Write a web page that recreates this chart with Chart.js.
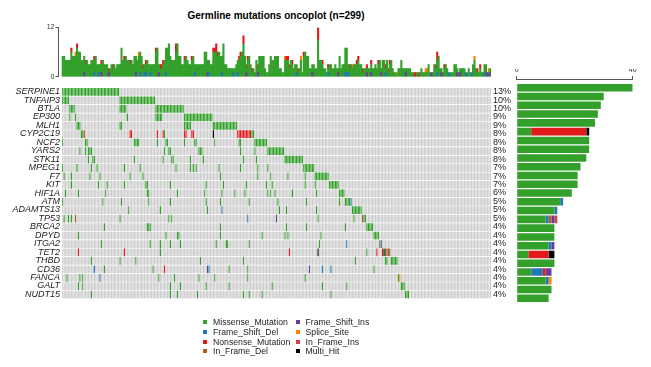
<!DOCTYPE html>
<html>
<head>
<meta charset="utf-8">
<script src="https://cdn.jsdelivr.net/npm/chart.js@4.4.1/dist/chart.umd.min.js"></script>
<style>
  body { margin: 0; width: 651px; height: 367px; background: #fff; position: relative; overflow: hidden;
         font-family: "Liberation Sans", Arial, sans-serif; }
  canvas { position: absolute; }
  #title { position: absolute; left: 0; width: 552px; top: 10px; text-align: center;
           font-weight: bold; font-size: 10px; color: #000; }
  .sq { position: absolute; width: 4px; height: 4px; }
  .lt { position: absolute; font-size: 8.7px; color: #222; line-height: 10px; white-space: nowrap; }
</style>
</head>
<body>
<div id="title">Germline mutations oncoplot (n=299)</div>
<canvas id="tmb" width="491" height="62" style="left:0;top:20px"></canvas>
<canvas id="matrix" width="520" height="226" style="left:0;top:80px"></canvas>
<canvas id="counts" width="151" height="256" style="left:500px;top:50px"></canvas>
<div id="legend"></div>
<script>
// genes, top to bottom
const genes = ['SERPINE1', 'TNFAIP3', 'BTLA', 'EP300', 'MLH1', 'CYP2C19', 'NCF2', 'YARS2', 'STK11', 'MPEG1',
  'F7', 'KIT', 'HIF1A', 'ATM', 'ADAMTS13', 'TP53', 'BRCA2', 'DPYD', 'ITGA2', 'TET2', 'THBD', 'CD36',
  'FANCA', 'GALT', 'NUDT15'];
const genePct = ['13%', '10%', '10%', '9%', '9%', '8%', '8%', '8%', '8%', '7%', '7%', '7%', '6%', '5%',
  '5%', '5%', '4%', '4%', '4%', '4%', '4%', '4%', '4%', '4%', '4%'];

const nSamples = 299;
const sampleIds = Array.from({ length: nSamples }, (_, i) => 'S' + (i + 1));

// variant classes
const vcNames = { M: 'Missense_Mutation', D: 'Frame_Shift_Del', N: 'Nonsense_Mutation', B: 'In_Frame_Del',
  F: 'Frame_Shift_Ins', S: 'Splice_Site', P: 'In_Frame_Ins', X: 'Multi_Hit' };
const vcColors = { M: '#33a02c', D: '#1f78b4', N: '#e31a1c', B: '#b15928',
  F: '#6a3d9a', S: '#ff7f00', P: '#d53e4f', X: '#000000' };

// mutations per sample (top bars)
const tmb = [
  5, 5, 4, 4, 4, 4, 7, 5, 5, 6,
  8, 6, 6, 4, 4, 5, 4, 4, 3, 3,
  4, 4, 5, 5, 3, 3, 3, 4, 4, 3,
  3, 3, 2, 2, 3, 3, 3, 2, 3, 3,
  3, 7, 4, 5, 5, 4, 4, 4, 4, 3,
  5, 5, 4, 6, 6, 5, 3, 3, 4, 4,
  3, 3, 3, 3, 3, 7, 7, 3, 3, 3,
  4, 4, 7, 7, 8, 5, 4, 4, 4, 8,
  8, 5, 5, 3, 3, 5, 5, 4, 3, 3,
  5, 5, 3, 3, 3, 3, 3, 3, 3, 6,
  6, 4, 4, 3, 3, 7, 7, 8, 6, 6,
  5, 5, 8, 3, 3, 2, 2, 2, 2, 2,
  2, 3, 4, 5, 6, 6, 10, 5, 3, 5,
  5, 3, 2, 2, 1, 4, 3, 5, 5, 5,
  5, 2, 1, 1, 3, 5, 4, 4, 5, 5,
  5, 2, 2, 1, 1, 5, 5, 5, 3, 4,
  4, 2, 3, 3, 2, 2, 5, 1, 6, 6,
  5, 5, 2, 2, 3, 3, 2, 2, 12, 4,
  4, 4, 2, 2, 1, 3, 3, 3, 2, 2,
  3, 2, 2, 5, 2, 3, 3, 7, 7, 3,
  3, 3, 3, 3, 3, 4, 5, 3, 3, 2,
  2, 2, 3, 2, 2, 4, 2, 2, 3, 2,
  4, 4, 2, 4, 4, 3, 4, 2, 4, 4,
  2, 1, 1, 1, 2, 2, 4, 2, 2, 2,
  2, 2, 2, 1, 1, 1, 1, 1, 1, 1,
  2, 1, 1, 2, 2, 3, 1, 1, 1, 3,
  3, 6, 5, 2, 2, 1, 3, 3, 2, 1,
  1, 1, 1, 3, 3, 2, 1, 2, 2, 2,
  2, 1, 1, 2, 1, 1, 3, 5, 2, 2,
  1, 3, 1, 1, 3, 3, 1, 2, 2
];
// non-missense part of the top bars: [sample, class, count]
const tmbOther = [
  [6, 'N', 1], [10, 'N', 1], [16, 'N', 1], [22, 'N', 1], [27, 'N', 1], [32, 'N', 1], [35, 'N', 1],
  [43, 'N', 1], [47, 'N', 1], [56, 'N', 1], [58, 'N', 1], [65, 'N', 1], [68, 'N', 1], [69, 'N', 1],
  [70, 'N', 1], [79, 'N', 2], [85, 'N', 1], [90, 'N', 1], [105, 'N', 1], [106, 'N', 1], [107, 'N', 2],
  [108, 'N', 1], [123, 'N', 1], [124, 'N', 1], [126, 'N', 2], [128, 'N', 1], [129, 'N', 1], [132, 'N', 1],
  [136, 'N', 1], [156, 'N', 1], [157, 'N', 1], [158, 'N', 1], [160, 'N', 1], [164, 'N', 1], [168, 'N', 1],
  [178, 'N', 3], [181, 'N', 1], [185, 'N', 1], [200, 'N', 1], [205, 'N', 1], [206, 'N', 1], [209, 'N', 1],
  [212, 'N', 1], [215, 'N', 1], [220, 'N', 1], [225, 'N', 1], [227, 'N', 1], [228, 'N', 1], [245, 'N', 1],
  [246, 'N', 1], [248, 'N', 1], [260, 'N', 1], [261, 'N', 2], [266, 'N', 1], [289, 'N', 1], [291, 'N', 1],
  [9, 'S', 1], [53, 'S', 1], [155, 'S', 1], [166, 'S', 1], [202, 'S', 1], [233, 'S', 1], [253, 'S', 1],
  [254, 'S', 1], [287, 'S', 1], [297, 'S', 1],
  [22, 'D', 1], [25, 'D', 1], [54, 'D', 1], [57, 'D', 1], [58, 'D', 1], [61, 'D', 1], [72, 'D', 1],
  [92, 'D', 1], [102, 'D', 1], [111, 'D', 1], [119, 'D', 1], [122, 'D', 1], [163, 'D', 1], [185, 'D', 1],
  [197, 'D', 1], [198, 'D', 1], [199, 'D', 1], [225, 'D', 1], [261, 'D', 1], [269, 'D', 1], [281, 'D', 1],
  [285, 'D', 1], [294, 'D', 1],
  [15, 'F', 1], [27, 'F', 1], [32, 'F', 1], [51, 'F', 1], [67, 'F', 1], [101, 'F', 1], [128, 'F', 1],
  [136, 'F', 1], [174, 'F', 1], [192, 'F', 1], [212, 'F', 1], [215, 'F', 1], [222, 'F', 1], [239, 'F', 1],
  [257, 'F', 1], [264, 'F', 1], [275, 'F', 1], [277, 'F', 1], [296, 'F', 1], [298, 'F', 1]
];

// oncoplot cells: [first sample, last sample, class]
const mutations = {
  SERPINE1: [[0, 39, 'M']],
  TNFAIP3: [[0, 4, 'M'], [40, 64, 'M']],
  BTLA: [[5, 8, 'M'], [40, 44, 'M'], [65, 84, 'M']],
  EP300: [[5, 5, 'M'], [9, 9, 'M'], [45, 45, 'M'], [65, 69, 'M'], [85, 104, 'M']],
  MLH1: [[10, 12, 'M'], [40, 41, 'M'], [85, 89, 'M'], [105, 121, 'M']],
  CYP2C19: [[13, 14, 'M'], [15, 15, 'N'], [47, 48, 'N'], [66, 66, 'N'], [70, 70, 'N'], [71, 71, 'M'],
    [85, 86, 'N'], [90, 91, 'N'], [105, 105, 'X'], [122, 131, 'N'], [132, 133, 'M']],
  NCF2: [[0, 0, 'M'], [16, 17, 'M'], [50, 53, 'M'], [66, 66, 'M'], [72, 73, 'M'], [85, 85, 'M'],
    [92, 93, 'M'], [106, 106, 'M'], [123, 124, 'M'], [134, 142, 'M']],
  YARS2: [[12, 12, 'M'], [16, 16, 'M'], [18, 20, 'M'], [71, 71, 'M'], [74, 75, 'M'], [95, 97, 'M'],
    [124, 124, 'M'], [134, 134, 'M'], [143, 154, 'M']],
  STK11: [[18, 18, 'M'], [21, 22, 'M'], [50, 50, 'M'], [70, 70, 'M'], [76, 77, 'M'], [89, 89, 'M'],
    [98, 98, 'M'], [126, 126, 'M'], [135, 135, 'M'], [155, 167, 'M']],
  MPEG1: [[0, 0, 'M'], [10, 10, 'M'], [20, 20, 'M'], [24, 24, 'M'], [43, 43, 'M'], [54, 54, 'M'],
    [79, 79, 'M'], [89, 89, 'M'], [91, 91, 'M'], [93, 93, 'M'], [109, 109, 'M'], [124, 124, 'M'],
    [136, 136, 'M'], [143, 143, 'M'], [168, 175, 'M']],
  F7: [[1, 1, 'M'], [6, 6, 'M'], [19, 19, 'M'], [26, 26, 'M'], [47, 47, 'M'], [56, 56, 'M'],
    [110, 110, 'M'], [136, 136, 'M'], [145, 145, 'M'], [157, 157, 'M'], [169, 169, 'M'], [176, 185, 'M']],
  KIT: [[6, 6, 'M'], [25, 25, 'M'], [31, 31, 'M'], [43, 43, 'M'], [58, 59, 'M'], [75, 75, 'M'],
    [100, 100, 'M'], [112, 112, 'M'], [128, 128, 'M'], [142, 142, 'M'], [146, 146, 'M'], [169, 169, 'M'],
    [176, 176, 'M'], [186, 192, 'M']],
  HIF1A: [[2, 2, 'M'], [11, 11, 'M'], [30, 30, 'M'], [59, 60, 'M'], [80, 80, 'M'], [99, 99, 'M'],
    [111, 111, 'M'], [120, 120, 'M'], [127, 127, 'M'], [143, 143, 'M'], [145, 145, 'M'], [148, 148, 'M'],
    [160, 160, 'M'], [177, 177, 'M'], [193, 196, 'M']],
  ATM: [[0, 0, 'M'], [28, 28, 'M'], [41, 41, 'M'], [60, 60, 'M'], [75, 75, 'M'], [100, 100, 'M'],
    [110, 110, 'M'], [130, 130, 'M'], [150, 150, 'M'], [170, 170, 'M'], [193, 193, 'M'], [197, 200, 'M'],
    [201, 201, 'D']],
  ADAMTS13: [[46, 46, 'M'], [68, 68, 'M'], [101, 101, 'M'], [111, 111, 'D'], [151, 151, 'M'],
    [156, 156, 'M'], [177, 177, 'M'], [202, 208, 'M']],
  TP53: [[1, 1, 'M'], [4, 4, 'M'], [6, 6, 'M'], [9, 9, 'B'], [40, 40, 'M'], [74, 74, 'M'], [76, 76, 'M'],
    [129, 129, 'D'], [149, 149, 'F'], [178, 178, 'M'], [203, 203, 'M'], [209, 209, 'P'], [210, 211, 'M']],
  BRCA2: [[29, 29, 'M'], [59, 61, 'M'], [110, 110, 'M'], [156, 156, 'M'], [170, 170, 'M'], [197, 197, 'M'],
    [212, 216, 'M']],
  DPYD: [[11, 11, 'M'], [72, 72, 'M'], [80, 81, 'M'], [110, 110, 'M'], [139, 139, 'M'], [155, 155, 'M'],
    [157, 157, 'M'], [180, 180, 'M'], [217, 220, 'M']],
  ITGA2: [[27, 27, 'M'], [61, 61, 'M'], [68, 68, 'M'], [75, 75, 'M'], [82, 82, 'M'], [107, 107, 'M'],
    [114, 115, 'M'], [130, 130, 'M'], [179, 179, 'M'], [198, 198, 'D'], [221, 221, 'M'], [222, 222, 'F']],
  TET2: [[11, 11, 'N'], [43, 43, 'N'], [68, 68, 'M'], [158, 158, 'N'], [178, 178, 'X'], [212, 212, 'M'],
    [219, 219, 'N'], [223, 223, 'N'], [224, 224, 'X'], [225, 225, 'M'], [226, 226, 'N'], [227, 227, 'M'],
    [228, 228, 'N']],
  THBD: [[20, 20, 'M'], [40, 40, 'M'], [51, 51, 'M'], [96, 96, 'M'], [126, 126, 'M'], [204, 204, 'M'],
    [225, 226, 'M'], [229, 233, 'M']],
  CD36: [[22, 22, 'D'], [29, 29, 'M'], [63, 63, 'M'], [71, 71, 'N'], [101, 101, 'F'], [102, 102, 'D'],
    [116, 116, 'M'], [129, 129, 'M'], [172, 172, 'F'], [181, 181, 'D'], [187, 187, 'D'], [217, 217, 'M']],
  FANCA: [[3, 3, 'M'], [12, 12, 'M'], [14, 14, 'M'], [26, 26, 'D'], [67, 67, 'M'], [78, 78, 'M'],
    [95, 95, 'M'], [106, 106, 'M'], [129, 129, 'M'], [169, 169, 'M'], [234, 234, 'M'], [235, 235, 'S']],
  GALT: [[11, 11, 'M'], [14, 14, 'M'], [75, 75, 'M'], [82, 82, 'M'], [100, 100, 'M'], [116, 116, 'M'],
    [146, 146, 'M'], [181, 181, 'M'], [198, 198, 'M'], [236, 238, 'M']],
  NUDT15: [[20, 20, 'M'], [75, 75, 'M'], [80, 80, 'M'], [94, 94, 'M'], [126, 126, 'M'], [130, 130, 'M'],
    [139, 139, 'M'], [187, 187, 'M'], [239, 241, 'M']]
};

// right side bars: samples per class for each gene
const countM = [40, 30, 29, 28, 27, 5, 25, 25, 24, 22, 21, 21, 19, 15, 13, 10, 13, 13, 11, 4, 13, 5, 10, 12, 11];
const countD = [0, 0, 0, 0, 0, 0, 0, 0, 0, 0, 0, 0, 0, 1, 1, 1, 0, 0, 1, 0, 0, 4, 1, 0, 0];
const countB = [0, 0, 0, 0, 0, 0, 0, 0, 0, 0, 0, 0, 0, 0, 0, 1, 0, 0, 0, 0, 0, 0, 0, 0, 0];
const countN = [0, 0, 0, 0, 0, 19, 0, 0, 0, 0, 0, 0, 0, 0, 0, 0, 0, 0, 0, 7, 0, 1, 0, 0, 0];
const countF = [0, 0, 0, 0, 0, 0, 0, 0, 0, 0, 0, 0, 0, 0, 0, 1, 0, 0, 1, 0, 0, 2, 0, 0, 0];
const countP = [0, 0, 0, 0, 0, 0, 0, 0, 0, 0, 0, 0, 0, 0, 0, 1, 0, 0, 0, 0, 0, 0, 0, 0, 0];
const countS = [0, 0, 0, 0, 0, 0, 0, 0, 0, 0, 0, 0, 0, 0, 0, 0, 0, 0, 0, 0, 0, 0, 1, 0, 0];
const countX = [0, 0, 0, 0, 0, 1, 0, 0, 0, 0, 0, 0, 0, 0, 0, 0, 0, 0, 0, 2, 0, 0, 0, 0, 0];

Chart.defaults.font.family = '"Liberation Sans", Arial, sans-serif';
Chart.defaults.animation = false;
const noPlugins = { legend: { display: false }, tooltip: { enabled: false } };
const axisCol = '#555';

// ---- top bar: mutations per sample
const parts = {};
['D', 'F', 'B', 'P', 'M', 'N', 'S'].forEach(t => { parts[t] = new Array(nSamples).fill(0); });
tmbOther.forEach(([s, t, c]) => { parts[t][s] += c; });
tmb.forEach((v, s) => {
  let other = 0;
  ['D', 'F', 'B', 'P', 'N', 'S'].forEach(t => { other += parts[t][s]; });
  parts.M[s] = v - other;
});

new Chart(document.getElementById('tmb'), {
  type: 'bar',
  data: {
    datasets: ['D', 'F', 'B', 'P', 'M', 'N', 'S'].map(t => ({
      label: vcNames[t],
      data: parts[t].map((v, s) => ({ x: s + 0.5, y: v || null })),
      backgroundColor: vcColors[t],
      borderWidth: 0,
      barPercentage: 1,
      categoryPercentage: 1
    }))
  },
  options: {
    responsive: false,
    events: [],
    layout: { padding: { top: 7.5, bottom: 3, left: 0, right: 0 } },
    plugins: noPlugins,
    scales: {
      x: { type: 'linear', min: -2.44, max: nSamples, offset: false, stacked: true, display: false },
      y: {
        min: 0, max: 12, stacked: true,
        afterBuildTicks: s => { s.ticks = [{ value: 0 }, { value: 12 }]; },
        ticks: { font: { size: 7 }, color: '#333', padding: 1 },
        grid: { drawOnChartArea: false, tickLength: 3, color: axisCol },
        border: { color: axisCol, width: 1 },
        afterFit: s => { s.width = 58.5; }
      }
    }
  }
});

// ---- oncoplot matrix
const bgCell = '#cecece';
const matrixSets = genes.map(g => {
  const colors = new Array(nSamples).fill(bgCell);
  mutations[g].forEach(([a, b, t]) => {
    for (let s = a; s <= b; s++) colors[s] = vcColors[t];
  });
  return {
    label: g,
    data: new Array(nSamples).fill(1),
    backgroundColor: colors,
    borderColor: '#ffffff',
    borderWidth: { top: 1, right: 0, bottom: 0, left: 0 },
    borderSkipped: false,
    barPercentage: 1,
    categoryPercentage: 1
  };
});

const halfTicks = s => { s.ticks = genes.map((g, i) => ({ value: i + 0.5 })); };

new Chart(document.getElementById('matrix'), {
  type: 'bar',
  data: { labels: sampleIds, datasets: matrixSets },
  options: {
    responsive: false,
    events: [],
    layout: { padding: { top: 3.5, bottom: 3.3, left: 0, right: 0 } },
    plugins: noPlugins,
    scales: {
      x: {
        stacked: true,
        ticks: { display: false, autoSkip: false },
        border: { display: false },
        grid: { z: 1, color: 'rgba(255,255,255,0.35)', lineWidth: 0.5, drawTicks: false, offset: true },
        afterFit: s => { s.height = 0; }
      },
      y: {
        stacked: true, min: 0, max: 25, reverse: true,
        border: { display: false },
        grid: { display: false, drawTicks: false },
        afterBuildTicks: halfTicks,
        ticks: {
          autoSkip: false, padding: 2, color: '#1a1a1a',
          font: { size: 9, style: 'italic' },
          callback: (v, i) => genes[i]
        },
        afterFit: s => { s.width = 62; }
      },
      yPct: {
        position: 'right', min: 0, max: 25, reverse: true,
        border: { display: false },
        grid: { display: false, drawTicks: false },
        afterBuildTicks: halfTicks,
        ticks: {
          autoSkip: false, padding: 2, color: '#1a1a1a',
          font: { size: 9 },
          callback: (v, i) => genePct[i]
        },
        afterFit: s => { s.width = 29; }
      }
    }
  }
});

// ---- right bars: altered samples per gene
const countSets = [['M', countM], ['D', countD], ['B', countB], ['N', countN], ['F', countF],
  ['P', countP], ['S', countS], ['X', countX]];

new Chart(document.getElementById('counts'), {
  type: 'bar',
  data: {
    datasets: countSets.map(([t, arr]) => ({
      label: vcNames[t],
      data: arr.map((v, i) => ({ x: v || null, y: i + 0.5 })),
      backgroundColor: vcColors[t],
      borderWidth: 0,
      barPercentage: 0.86,
      categoryPercentage: 1
    }))
  },
  options: {
    indexAxis: 'y',
    responsive: false,
    events: [],
    layout: { padding: { top: 19, bottom: 3.3, left: 16.7, right: 18.3 } },
    plugins: noPlugins,
    scales: {
      x: {
        position: 'top', min: 0, max: 40, stacked: true,
        afterBuildTicks: s => { s.ticks = [{ value: 0 }, { value: 40 }]; },
        ticks: { font: { size: 7 }, color: '#333', padding: 2, maxRotation: 0 },
        grid: { drawOnChartArea: false, tickLength: 3, color: axisCol },
        border: { color: axisCol, width: 1 },
        afterFit: s => { s.height = 10; }
      },
      y: { type: 'linear', min: -0.5, max: 25, reverse: true, stacked: true, offset: false, display: false }
    }
  }
});

// ---- legend
const legendOrder = ['M', 'D', 'N', 'B', 'F', 'S', 'P', 'X'];
const legendBox = document.getElementById('legend');
legendOrder.forEach((t, k) => {
  const left = k < 4 ? 203 : 295.5;
  const cy = [322, 332, 341.5, 351][k % 4];
  const sq = document.createElement('div');
  sq.className = 'sq';
  sq.style.left = left + 'px';
  sq.style.top = (cy - 2) + 'px';
  sq.style.background = vcColors[t];
  const tx = document.createElement('div');
  tx.className = 'lt';
  tx.style.left = (left + 10) + 'px';
  tx.style.top = (cy - 5) + 'px';
  tx.textContent = vcNames[t];
  legendBox.appendChild(sq);
  legendBox.appendChild(tx);
});
</script>
</body>
</html>
